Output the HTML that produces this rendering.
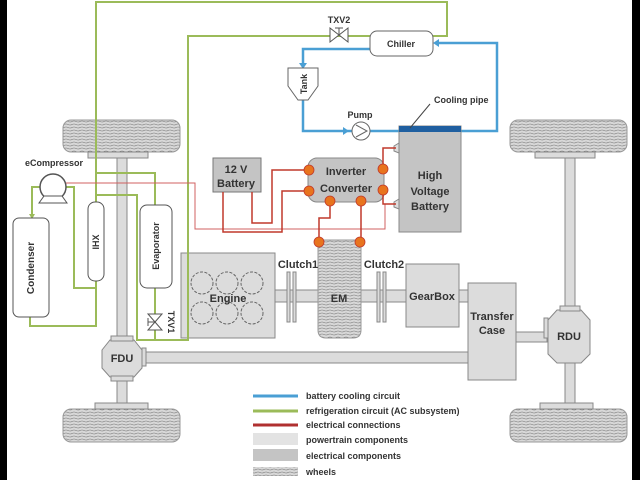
<!DOCTYPE html>
<html><head><meta charset="utf-8"><style>
html,body{margin:0;padding:0;background:#fff}
svg{display:block}
text{font-family:"Liberation Sans",sans-serif;font-weight:bold;fill:#333}
</style></head><body>
<svg width="640" height="480" viewBox="0 0 640 480" xmlns="http://www.w3.org/2000/svg">
<defs>
<pattern id="wh" width="8" height="3" patternUnits="userSpaceOnUse">
<rect width="8" height="3" fill="#d8d8d8"/>
<path d="M0 1.5 Q2 0.5 4 1.5 T8 1.5" stroke="#777" stroke-width="0.6" fill="none"/>
</pattern>
</defs>
<rect width="640" height="480" fill="#fff"/>
<rect x="0" y="0" width="7" height="480" fill="#000"/>
<rect x="632" y="0" width="8" height="480" fill="#000"/>

<g stroke="#999" stroke-width="1">
<rect x="63" y="120" width="117" height="32" rx="8" fill="url(#wh)"/>
<rect x="510" y="120" width="117" height="32" rx="8" fill="url(#wh)"/>
<rect x="63" y="409" width="117" height="33" rx="8" fill="url(#wh)"/>
<rect x="510" y="409" width="117" height="33" rx="8" fill="url(#wh)"/>
</g>
<g fill="#dcdcdc" stroke="#888" stroke-width="1">
<rect x="88" y="152" width="60" height="6"/>
<rect x="535" y="152" width="60" height="6"/>
<rect x="95" y="403" width="53" height="6"/>
<rect x="540" y="403" width="53" height="6"/>
<rect x="117" y="158" width="10" height="184"/>
<rect x="117" y="377" width="10" height="26"/>
<rect x="565" y="158" width="10" height="152"/>
<rect x="565" y="363" width="10" height="40"/>
<rect x="145" y="352" width="323" height="11"/>
<rect x="516" y="332" width="31" height="10"/>
<rect x="275" y="290" width="131" height="12"/>
<rect x="459" y="290" width="10" height="12"/>
<polygon points="110,340 134,340 142,350 142,368 134,377 110,377 102,368 102,350"/>
<rect x="142" y="348" width="4" height="18"/>
<polygon points="557,310 581,310 590,320 590,354 581,363 557,363 548,354 548,320"/>
<rect x="544" y="318" width="4" height="20"/>
<rect x="111" y="336" width="22" height="5"/>
<rect x="111" y="376" width="22" height="5"/>
<rect x="560" y="306" width="20" height="5"/>
<rect x="181" y="253" width="94" height="85"/>
<rect x="406" y="264" width="53" height="63"/>
<rect x="468" y="283" width="48" height="97"/>
<rect x="287" y="272" width="3" height="50"/>
<rect x="293" y="272" width="3" height="50"/>
<rect x="377" y="272" width="3" height="50"/>
<rect x="383" y="272" width="3" height="50"/>
</g>
<path d="M318 240 H361 V330 Q361 338 353 338 H326 Q318 338 318 330 Z" fill="url(#wh)" stroke="#999"/>
<g fill="none" stroke="#666" stroke-dasharray="3,1.5">
<circle cx="202" cy="283" r="11"/><circle cx="227" cy="283" r="11"/><circle cx="252" cy="283" r="11"/>
<circle cx="202" cy="313" r="11"/><circle cx="227" cy="313" r="11"/><circle cx="252" cy="313" r="11"/>
</g>

<g fill="none" stroke="#9bbb59" stroke-width="2">
<polyline points="96,202 96,2 447,2 447,36 433,36"/>
<polyline points="370,36 188,36 188,340 137,340 137,195 96,195"/>
<polyline points="96,173 155,173 155,205"/>
<polyline points="155,288 155,340"/>
<polyline points="65,187 74,187 74,288 96,288 96,281"/>
<polyline points="96,282 96,326 30,326 30,317"/>
<polyline points="40,187 32,187 32,217"/>
</g>
<polygon points="29,214 35,214 32,219" fill="#9bbb59"/>
<g fill="#fff" stroke="#555" stroke-width="1">
<polygon points="148,314 162,314 155,322 148,330 162,330 155,322"/>
<polygon points="330,28 330,42 339,35 348,28 348,42 339,35"/>
<line x1="339" y1="35" x2="339" y2="28"/><line x1="335" y1="28" x2="343" y2="28"/>
<line x1="155" y1="322" x2="148" y2="322"/><line x1="148" y1="318" x2="148" y2="326"/>
</g>

<g fill="none" stroke="#4a9fd4" stroke-width="2.5">
<polyline points="370,49 303,49 303,66"/>
<polyline points="303,100 303,131 399,131"/>
<polyline points="461,131 497,131 497,43 436,43"/>
</g>
<polygon points="299,63 307,63 303,69" fill="#4a9fd4"/>
<polygon points="433,43 439,39 439,47" fill="#4a9fd4"/>
<polygon points="349,131 343,127 343,135" fill="#4a9fd4"/>
<circle cx="361" cy="131" r="9" fill="#fff" stroke="#666"/>
<polyline points="356,125 367,131 356,137" fill="none" stroke="#666"/>
<path d="M288 68 H318 V86 L308 100 H298 L288 86 Z" fill="#fff" stroke="#666"/>
<rect x="370" y="31" width="63" height="25" rx="7" fill="#fff" stroke="#666"/>

<rect x="399" y="126" width="62" height="106" fill="#c4c4c4" stroke="#888"/>
<rect x="399" y="126" width="62" height="6" fill="#1f5fa0"/>
<line x1="430" y1="104" x2="410" y2="128" stroke="#444"/>
<rect x="213" y="158" width="48" height="34" fill="#c4c4c4" stroke="#777"/>
<rect x="308" y="158" width="76" height="44" rx="9" fill="#c4c4c4" stroke="#888"/>
<rect x="13" y="218" width="36" height="99" rx="6" fill="#fff" stroke="#555"/>
<rect x="88" y="202" width="16" height="79" rx="7" fill="#fff" stroke="#555"/>
<rect x="140" y="205" width="32" height="83" rx="7" fill="#fff" stroke="#555"/>
<circle cx="53" cy="187" r="13" fill="#fff" stroke="#555" stroke-width="1.5"/>
<polygon points="44,196 62,196 67,203 39,203" fill="#fff" stroke="#555"/>
<polygon points="394,146 399,143 399,153 394,151" fill="#ddd" stroke="#888"/>
<polygon points="394,202 399,199 399,209 394,207" fill="#ddd" stroke="#888"/>

<polyline points="66,183 195,183 195,229 385,229 385,204" fill="none" stroke="#d06060" stroke-width="1"/>
<g fill="none" stroke="#c0392b" stroke-width="1.5">
<polyline points="252,192 252,223 272,223 272,170 309,170"/>
<polyline points="223,192 223,232 282,232 282,191 309,191"/>
<polyline points="383,169 383,148 396,148"/>
<polyline points="383,190 383,204 396,204"/>
<polyline points="330,201 330,218 319,218 319,241"/>
<polyline points="361,201 361,241"/>
</g>
<g fill="#e8741e" stroke="#c0392b" stroke-width="0.8">
<circle cx="309" cy="170" r="5"/><circle cx="309" cy="191" r="5"/>
<circle cx="383" cy="169" r="5"/><circle cx="383" cy="190" r="5"/>
<circle cx="330" cy="201" r="5"/><circle cx="361" cy="201" r="5"/>
<circle cx="319" cy="242" r="5"/><circle cx="360" cy="242" r="5"/>
</g>

<g font-size="11">
<text x="236" y="173" text-anchor="middle">12 V</text>
<text x="236" y="187" text-anchor="middle">Battery</text>
<text x="346" y="175" text-anchor="middle">Inverter</text>
<text x="346" y="192" text-anchor="middle">Converter</text>
<text x="430" y="179" text-anchor="middle">High</text>
<text x="430" y="195" text-anchor="middle">Voltage</text>
<text x="430" y="210" text-anchor="middle">Battery</text>
<text x="228" y="302" text-anchor="middle">Engine</text>
<text x="339" y="302" text-anchor="middle">EM</text>
<text x="432" y="300" text-anchor="middle">GearBox</text>
<text x="492" y="320" text-anchor="middle">Transfer</text>
<text x="492" y="334" text-anchor="middle">Case</text>
<text x="298" y="268" text-anchor="middle">Clutch1</text>
<text x="384" y="268" text-anchor="middle">Clutch2</text>
<text x="122" y="362" text-anchor="middle">FDU</text>
<text x="569" y="340" text-anchor="middle">RDU</text>
</g>
<g font-size="9">
<text x="339" y="23" text-anchor="middle">TXV2</text>
<text x="401" y="47" text-anchor="middle">Chiller</text>
<text x="360" y="118" text-anchor="middle">Pump</text>
<text x="434" y="103">Cooling pipe</text>
<text x="25" y="166">eCompressor</text>
<text transform="translate(34,268) rotate(-90)" text-anchor="middle" font-size="10">Condenser</text>
<text transform="translate(99,242) rotate(-90)" text-anchor="middle">IHX</text>
<text transform="translate(159,246) rotate(-90)" text-anchor="middle">Evaporator</text>
<text transform="translate(307,84) rotate(-90)" text-anchor="middle">Tank</text>
<text transform="translate(168,322) rotate(90)" text-anchor="middle">TXV1</text>
</g>

<line x1="253" y1="396" x2="298" y2="396" stroke="#4a9fd4" stroke-width="3"/>
<line x1="253" y1="411" x2="298" y2="411" stroke="#9bbb59" stroke-width="3"/>
<line x1="253" y1="425" x2="298" y2="425" stroke="#b03030" stroke-width="3"/>
<rect x="253" y="433" width="45" height="12" fill="#e3e3e3"/>
<rect x="253" y="449" width="45" height="12" fill="#c4c4c4"/>
<rect x="253" y="467" width="45" height="9" fill="url(#wh)"/>
<g font-size="9">
<text x="306" y="399">battery cooling circuit</text>
<text x="306" y="414">refrigeration circuit (AC subsystem)</text>
<text x="306" y="428">electrical connections</text>
<text x="306" y="443">powertrain components</text>
<text x="306" y="459">electrical components</text>
<text x="306" y="475">wheels</text>
</g>
</svg>
</body></html>
